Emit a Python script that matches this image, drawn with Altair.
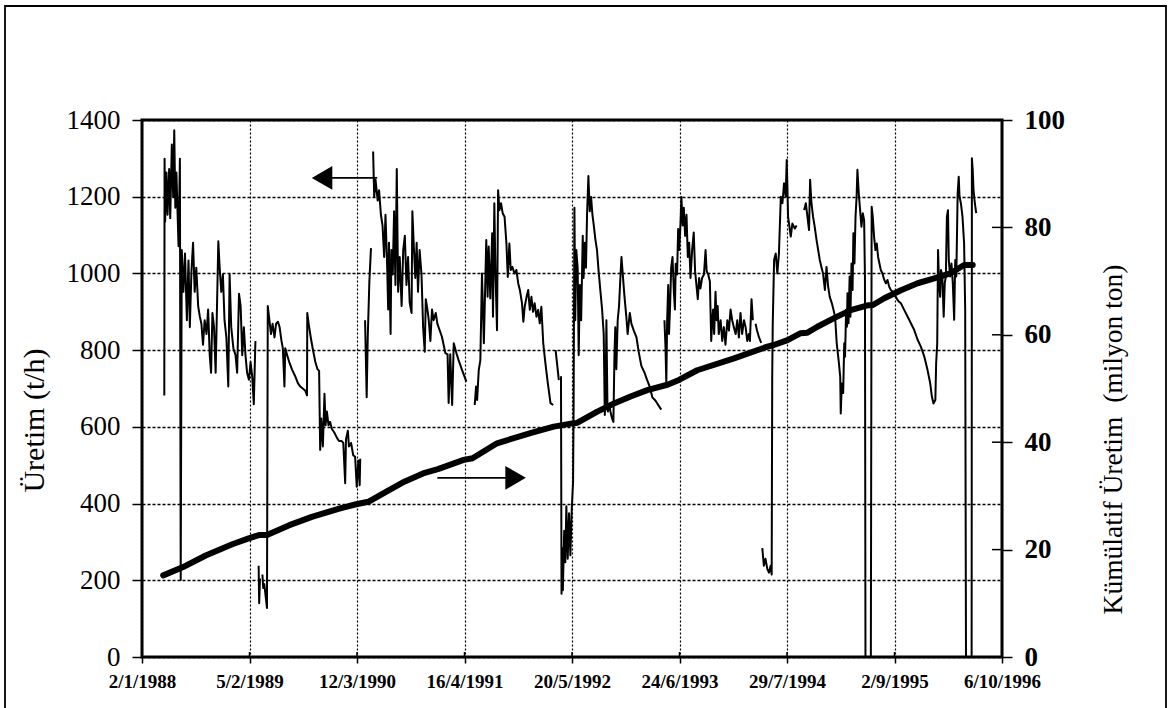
import altair as alt
import pandas as pd

# ---- x axis: days counted from 2/1/1988, a labelled tick every 400 days ----
date_labels = ["2/1/1988", "5/2/1989", "12/3/1990", "16/4/1991", "20/5/1992",
               "24/6/1993", "29/7/1994", "2/9/1995", "6/10/1996"]
tick_days = [0, 400, 800, 1200, 1600, 2000, 2400, 2800, 3200]
left_ticks = [0, 200, 400, 600, 800, 1000, 1200, 1400]
right_ticks = [0, 20, 40, 60, 80, 100]

# ---- hourly production (t/h), one array pair per continuous stretch ----
s1_day = [83, 84, 86, 91, 95, 101, 105, 111, 116, 120, 124, 128, 136, 141, 144, 148, 154, 160, 167, 173,
          178, 184, 190, 196, 202, 209, 215, 221, 227, 233, 240, 246, 252, 257, 262, 268, 274, 278, 284, 289,
          295, 301, 307, 314, 321, 326, 332, 340, 348, 354, 361, 367, 373, 379, 385, 391, 398, 404, 410, 416, 422]
s1_val = [682, 1299, 1135, 1263, 1153, 1272, 1144, 1336, 1199, 1373, 1171, 1263, 1071, 1299, 201, 1061, 952, 1052, 878, 1034,
          860, 1006, 1080, 952, 1015, 915, 888, 869, 814, 878, 842, 906, 787, 741, 897, 860, 741, 878, 1084, 1015,
          952, 997, 878, 833, 705, 997, 860, 805, 787, 741, 947, 915, 787, 860, 787, 741, 723, 769, 732, 659, 824]

s2_day = [434, 436, 439]
s2_val = [238, 140, 205]

s3_day = [448, 451, 455, 459, 465, 468, 474, 480, 486, 493, 499, 506, 512, 519, 524, 530, 533, 540, 548, 558,
          570, 580, 589, 598, 607, 614, 615, 620, 628, 635, 645, 653, 659, 663, 667, 673, 679, 683, 688, 694,
          700, 706, 715, 725, 733, 743, 749, 756, 759, 766, 770, 778, 786, 793, 799, 805, 810, 812]
s3_val = [215, 180, 190, 165, 128, 915, 878, 842, 869, 833, 869, 874, 860, 824, 805, 705, 805, 787, 769, 750,
          732, 714, 705, 700, 695, 682, 897, 869, 833, 805, 769, 750, 746, 540, 622, 549, 686, 604, 640, 604,
          613, 595, 586, 572, 563, 563, 558, 453, 567, 590, 549, 558, 526, 522, 444, 512, 448, 517]

s4_day = [830, 836, 840, 846, 852]
s4_val = [878, 677, 833, 979, 1066]

s5_day = [860, 864, 869, 877, 882, 889, 895, 901, 906, 912, 916, 919, 925, 928, 933, 938, 943, 948, 953, 959,
          966, 972, 978, 984, 990, 996, 1003, 1006, 1012, 1017, 1022, 1027, 1033, 1040, 1046, 1052, 1056, 1062,
          1067, 1073, 1079, 1085, 1093, 1099, 1116, 1129, 1137, 1141, 1147, 1154, 1160, 1170, 1178, 1191, 1207]
s5_val = [1318, 1199, 1244, 1190, 1217, 1153, 1125, 1043, 1153, 1025, 906, 1080, 842, 1061, 997, 1162, 970, 1272, 952, 1043,
          915, 1061, 1098, 970, 1043, 924, 897, 1162, 1061, 988, 1080, 952, 1061, 997, 860, 796, 933, 906,
          878, 824, 906, 878, 897, 869, 835, 792, 789, 662, 789, 657, 818, 792, 774, 748, 718]

s6_day = [1238, 1243, 1247, 1253, 1259, 1265, 1272, 1275, 1281, 1286, 1290, 1296, 1303, 1306, 1311, 1315, 1321,
          1325, 1330, 1336, 1342, 1349, 1356, 1361, 1367, 1372, 1378, 1386, 1393, 1400, 1406, 1414, 1419, 1424,
          1431, 1437, 1443, 1449, 1455, 1461, 1468, 1474, 1480, 1486, 1493, 1501, 1510, 1520, 1530]
s6_val = [657, 705, 670, 748, 774, 1000, 818, 905, 1087, 939, 1070, 935, 1105, 887, 1183, 1009, 852,
          1217, 1165, 1183, 1157, 1148, 1078, 991, 1078, 1009, 1017, 1000, 1009, 974, 957, 922, 874, 913,
          939, 957, 905, 939, 900, 922, 887, 905, 870, 913, 818, 766, 714, 662, 657]

s7_day = [1539, 1551]
s7_val = [800, 722]

s8_day = [1559, 1561, 1563, 1566, 1571, 1575, 1579, 1584, 1589, 1594, 1599, 1604, 1606, 1609, 1612, 1616, 1621,
          1625, 1629, 1634, 1640, 1643, 1648, 1652, 1656, 1661, 1666, 1671, 1676, 1681, 1687, 1693, 1699, 1706,
          1712, 1718, 1722, 1725, 1728, 1732, 1734, 1738, 1743, 1749, 1754, 1758, 1761, 1765, 1770, 1775, 1780,
          1784, 1789, 1795, 1802, 1807, 1815, 1821, 1830, 1840, 1848, 1858, 1870, 1879, 1889, 1899, 1911, 1919, 1932]
s8_val = [732, 165, 284, 174, 329, 247, 393, 256, 375, 265, 384, 457, 650, 1171, 878, 1061, 1015,
          787, 970, 878, 1098, 988, 1080, 1015, 1153, 1254, 1162, 1199, 1153, 1125, 1089, 1061, 1006, 952,
          906, 842, 631, 677, 878, 650, 640, 659, 640, 622, 613, 787, 860, 750, 878, 915, 988,
          1043, 997, 942, 888, 842, 897, 869, 851, 833, 796, 759, 741, 723, 705, 677, 668, 659, 645]

s9_day = [1944, 1948, 1951, 1954, 1958, 1961, 1965, 1969, 1974, 1979, 1983, 1986, 1991, 1995, 1999, 2004, 2007,
          2012, 2016, 2021, 2026, 2031, 2036, 2041, 2047, 2053, 2058, 2063, 2068, 2073, 2078, 2084, 2091, 2097,
          2101, 2107, 2113, 2118, 2122, 2125, 2129, 2134, 2138, 2142, 2146, 2153, 2159, 2165, 2171, 2178, 2184,
          2190, 2196, 2202, 2209, 2215, 2221, 2227, 2233, 2240, 2246, 2252, 2258, 2262, 2268, 2273]
s9_val = [878, 805, 714, 878, 970, 842, 915, 1015, 1043, 952, 906, 1025, 997, 1116, 1061, 1135, 1199,
          1125, 1171, 1098, 1153, 1043, 1080, 988, 1061, 1107, 1006, 970, 933, 988, 961, 988, 997, 1061,
          1006, 997, 979, 824, 878, 906, 842, 952, 878, 915, 842, 878, 824, 860, 814, 878, 851,
          906, 878, 860, 842, 878, 833, 897, 842, 878, 860, 824, 842, 824, 933, 878]

s10_day = [2283, 2289, 2296, 2304]
s10_val = [869, 850, 833, 819]

s11_day = [2308, 2314, 2320, 2327, 2333, 2339, 2343, 2345, 2347, 2352, 2358, 2364, 2370, 2377, 2383, 2389,
           2395, 2399, 2404, 2409, 2414, 2420, 2429, 2436]
s11_val = [284, 238, 256, 229, 220, 238, 215, 731, 870, 1035, 1052, 1000, 1052, 1200, 1183, 1235,
           1200, 1296, 1148, 1122, 1096, 1130, 1117, 1125]

s12_day = [2464, 2470, 2476, 2482, 2486, 2491, 2497, 2503, 2510, 2516, 2522, 2528, 2534, 2541, 2547, 2553,
           2559, 2567, 2573, 2579, 2585, 2592, 2598, 2600, 2604, 2609, 2613, 2616, 2620, 2623, 2625, 2629,
           2633, 2636, 2640, 2644, 2647, 2651, 2655, 2659, 2662, 2667, 2672, 2677, 2682, 2687, 2690, 2692,
           2712, 2715, 2719, 2724, 2729, 2734, 2739, 2744, 2749, 2755, 2762, 2768, 2774, 2780, 2786, 2793,
           2799, 2805, 2811, 2817, 2824, 2836, 2849, 2861, 2873, 2886, 2898, 2911, 2923, 2933, 2939, 2945,
           2952, 2955, 2959, 2962, 2966, 2970, 2973, 2978, 2983, 2987, 2991, 2995, 2999, 3002, 3007, 3012,
           3017, 3022, 3026, 3030, 3035, 3039, 3042, 3047, 3053, 3059, 3063, 3066, 3087, 3088, 3091, 3094,
           3099, 3104]
s12_val = [1165, 1183, 1148, 1113, 1244, 1183, 1148, 1122, 1087, 1061, 1035, 1017, 1000, 957, 1017, 966,
           939, 922, 905, 887, 818, 774, 731, 635, 713, 688, 818, 783, 905, 861, 948, 870,
           992, 887, 1026, 957, 1105, 1026, 1148, 1200, 1270, 1209, 1165, 1122, 1157, 1139, 992, 0,
           0, 1174, 1148, 1096, 1061, 1078, 1043, 1026, 1009, 1000, 983, 974, 983, 966, 957, 953,
           944, 939, 931, 926, 922, 905, 887, 870, 853, 827, 809, 783, 748, 713, 679, 661,
           670, 766, 818, 1061, 974, 939, 1009, 992, 887, 974, 992, 1148, 1165, 1035, 992, 1026,
           974, 879, 1035, 992, 1209, 1252, 1200, 1183, 1148, 1078, 905, 0, 0, 1300, 1270, 1218,
           1183, 1157]

# ---- cumulative production (million t) ----
cum_day = [79, 151, 237, 336, 397, 435, 465, 546, 632, 731, 793, 842, 916, 978, 1052, 1101, 1197, 1230,
           1321, 1445, 1532, 1601, 1619, 1694, 1756, 1818, 1880, 1955, 1998, 2066, 2203, 2327, 2351, 2402,
           2451, 2476, 2513, 2575, 2637, 2700, 2718, 2762, 2824, 2886, 2948, 3010, 3059, 3091]
cum_val = [15.2, 16.7, 18.9, 21.0, 22.1, 22.7, 22.7, 24.5, 26.1, 27.6, 28.4, 28.9, 31.0, 32.7, 34.3, 35.0, 36.7, 37.0,
           39.8, 41.7, 42.9, 43.5, 43.6, 45.7, 47.2, 48.5, 49.7, 50.7, 51.6, 53.4, 55.6, 57.8, 58.1, 59.0,
           60.3, 60.4, 61.5, 63.1, 64.6, 65.5, 65.5, 66.8, 68.3, 69.6, 70.5, 71.5, 73.0, 73.0]

# ---- arrows pointing each curve to its own axis (t/h scale) ----
arrow_start = [676, 1099]
arrow_end = [875, 1372]
arrow_head = [670, 1390]
arrow_level = [1249, 467]
arrow_shape = ["triangle-left", "triangle-right"]

segments = [(s1_day, s1_val), (s2_day, s2_val), (s3_day, s3_val), (s4_day, s4_val),
            (s5_day, s5_val), (s6_day, s6_val), (s7_day, s7_val), (s8_day, s8_val),
            (s9_day, s9_val), (s10_day, s10_val), (s11_day, s11_val), (s12_day, s12_val)]
rows = []
for k, (days, vals) in enumerate(segments):
    for i, (d, v) in enumerate(zip(days, vals)):
        rows.append({"seg": k, "idx": i, "day": d, "val": v})
prod = pd.DataFrame(rows)
cum = pd.DataFrame({"day": cum_day, "cum": cum_val})
shaft_df = pd.DataFrame({"day": arrow_start, "day2": arrow_end, "val": arrow_level})
head_df = pd.DataFrame({"day": arrow_head, "val": arrow_level, "shape": arrow_shape})
rtick_df = pd.DataFrame({"cum": right_ticks})
xtick_df = pd.DataFrame({"day": tick_days})

FONT = "Liberation Serif"
label_list = "[" + ",".join("'" + s + "'" for s in date_labels) + "]"

x_scale = alt.Scale(domain=[0, 3200], nice=False, zero=False)
y_scale = alt.Scale(domain=[0, 1400], nice=False)

x_axis = alt.Axis(values=tick_days, labelExpr=label_list + "[round(datum.value / 400)]",
                  title="", grid=True, gridDash=[2, 2], gridColor="black", gridWidth=1.2,
                  labelFontSize=19, labelFontWeight="bold", labelFlush=False, labelOverlap=False,
                  labelBound=False, tickSize=6, tickWidth=1.5, tickColor="black",
                  labelPadding=9, domain=False)
y_axis = alt.Axis(values=left_ticks, format="d", title="Üretim (t/h)",
                  grid=True, gridDash=[3, 2], gridColor="black", gridWidth=1.5,
                  labelFontSize=27, tickSize=10, tickWidth=1.5, tickColor="black",
                  labelPadding=12, domain=False,
                  titleFontSize=30, titleFontWeight="normal", titleAngle=270,
                  titleX=-108, titleY=300, titleAlign="center", titleBaseline="middle")
y2_axis = alt.Axis(values=right_ticks, format="d", orient="right",
                   title="Kümülatif Üretim \u00a0(milyon ton)", grid=False,
                   labelFontSize=27, labelFontWeight="bold", tickSize=10, tickWidth=1.5,
                   tickColor="black", labelPadding=12, domain=False,
                   titleFontSize=27.5, titleFontWeight="normal", titleAngle=270,
                   titleX=111, titleY=319, titleAlign="center", titleBaseline="middle")

prod_line = alt.Chart(prod).mark_line(color="black", strokeWidth=2.0, strokeJoin="round").encode(
    x=alt.X("day:Q", scale=x_scale, axis=x_axis),
    y=alt.Y("val:Q", scale=y_scale, axis=y_axis),
    detail="seg:N",
    order="idx:Q",
)

shafts = alt.Chart(shaft_df).mark_rule(color="black", strokeWidth=1.8).encode(
    x="day:Q", x2="day2:Q", y="val:Q")
heads = alt.Chart(head_df).mark_point(filled=True, color="black", opacity=1, size=560).encode(
    x="day:Q", y="val:Q", shape=alt.Shape("shape:N", scale=None))

# inner half of the date ticks (they cross the axis line)
x_inner_ticks = alt.Chart(xtick_df).mark_rule(color="black", strokeWidth=1.5).encode(
    x="day:Q", y=alt.value(532), y2=alt.value(537))

# outer chart border
frame = alt.Chart(pd.DataFrame({"a": [0]})).mark_rect(
    fill="transparent", stroke="black", strokeWidth=1.8).encode(
    x=alt.value(-137), x2=alt.value(1024), y=alt.value(-114), y2=alt.value(600))

left_group = alt.layer(prod_line, shafts, heads, x_inner_ticks, frame)

cum_line = alt.Chart(cum).mark_line(color="black", strokeWidth=6, strokeCap="round",
                                    strokeJoin="round").encode(
    x=alt.X("day:Q"),
    y=alt.Y("cum:Q", scale=alt.Scale(domain=[0, 100], nice=False), axis=y2_axis),
)
# inner half of the right-axis ticks
inner_ticks = alt.Chart(rtick_df).mark_rule(color="black", strokeWidth=1.5).encode(
    y="cum:Q", x=alt.value(850), x2=alt.value(860))

right_group = alt.layer(cum_line, inner_ticks)

chart = alt.layer(left_group, right_group).resolve_scale(y="independent").properties(
    width=860, height=537,
    padding={"left": 142, "top": 120, "right": 166, "bottom": 51},
    autosize=alt.AutoSizeParams(type="none"),
    background="white",
).configure_view(stroke="black", strokeWidth=3).configure_axis(
    labelFont=FONT, titleFont=FONT, labelColor="black", titleColor="black")

chart.save("out.html", embed_options={"renderer": "svg", "actions": False})
